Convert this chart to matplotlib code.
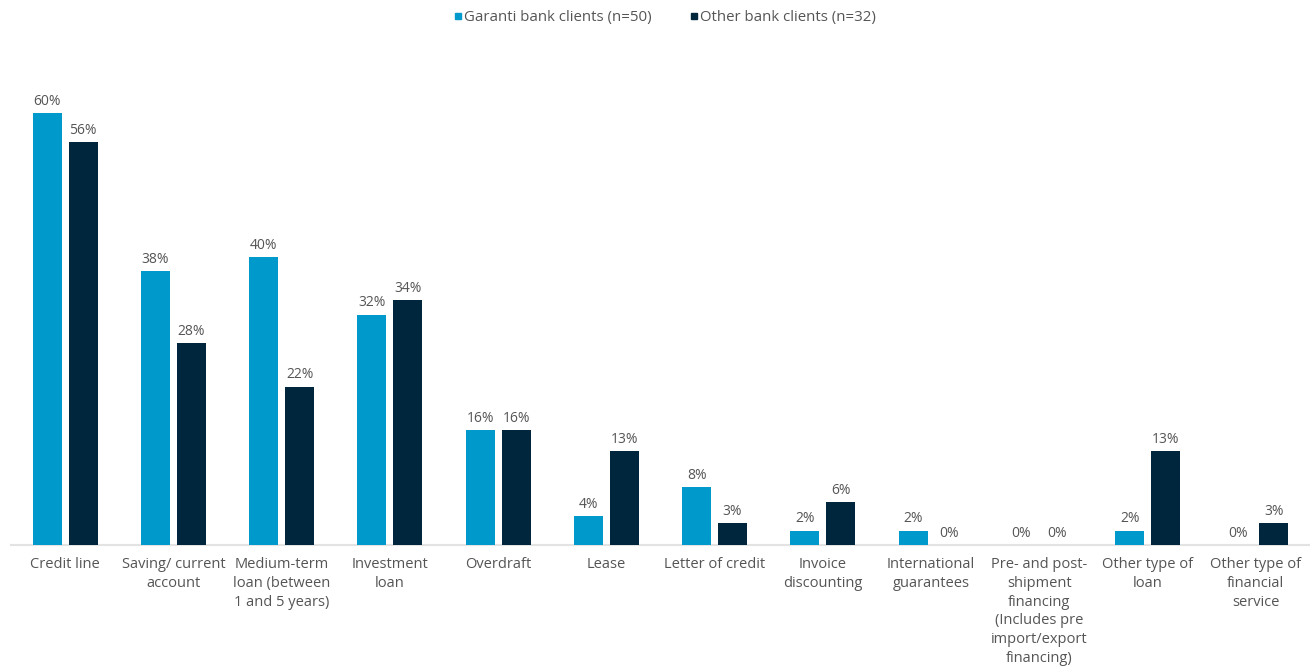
import matplotlib
matplotlib.use("Agg")
import matplotlib.pyplot as plt
import numpy as np
from matplotlib.lines import Line2D

categories = [
    "Credit line",
    "Saving/ current\naccount",
    "Medium-term\nloan (between\n1 and 5 years)",
    "Investment\nloan",
    "Overdraft",
    "Lease",
    "Letter of credit",
    "Invoice\ndiscounting",
    "International\nguarantees",
    "Pre- and post-\nshipment\nfinancing\n(Includes pre\nimport/export\nfinancing)",
    "Other type of\nloan",
    "Other type of\nfinancial\nservice",
]
garanti = [60, 38, 40, 32, 16, 4, 8, 2, 2, 0, 2, 0]
other = [56, 28, 22, 34, 16, 13, 3, 6, 0, 0, 13, 3]
series_names = ["Garanti bank clients (n=50)", "Other bank clients (n=32)"]

c_garanti = "#0099cc"
c_other = "#00263e"
c_text = "#555555"

plt.rcParams["font.family"] = ["Open Sans", "DejaVu Sans"]

fig = plt.figure(figsize=(13.1, 6.66), dpi=100)
W, H = 1310, 666
base_y, top_y = 545, 40
ax = fig.add_axes([11 / W, (H - base_y) / H, (W - 11) / W, (base_y - top_y) / H])

x = np.arange(len(categories))
bw = 0.268
off = 0.166
b1 = ax.bar(x - off, garanti, bw, color=c_garanti, zorder=3)
b2 = ax.bar(x + off, other, bw, color=c_other, zorder=3)

for bars, vals in ((b1, garanti), (b2, other)):
    for rect, v in zip(bars, vals):
        ax.annotate(f"{v}%", (rect.get_x() + rect.get_width() / 2, v),
                    xytext=(0, 3), textcoords="offset points",
                    ha="center", va="bottom", fontsize=10, color=c_text)

ax.set_xlim(-0.5, len(categories) - 0.5)
ax.set_ylim(0, (base_y - top_y) / 7.2)
ax.set_xticks(x)
ax.set_xticklabels(categories, fontsize=10.5, color=c_text, linespacing=1.33)
ax.tick_params(axis="x", length=0, pad=9)
ax.set_yticks([])
for s in ("top", "right", "left"):
    ax.spines[s].set_visible(False)
ax.spines["bottom"].set_color("#e3e3e3")
ax.spines["bottom"].set_linewidth(1.5)

handles = [Line2D([], [], marker="s", linestyle="none", markersize=5, color=c)
           for c in (c_garanti, c_other)]
fig.legend(handles, series_names, loc="center", bbox_to_anchor=(0.507, 1 - 18 / H),
           ncol=2, frameon=False, fontsize=10.8, labelcolor=c_text,
           handletextpad=0.0, columnspacing=2.4, handlelength=0.8)

fig.savefig("out.png", dpi=100, facecolor="white")
